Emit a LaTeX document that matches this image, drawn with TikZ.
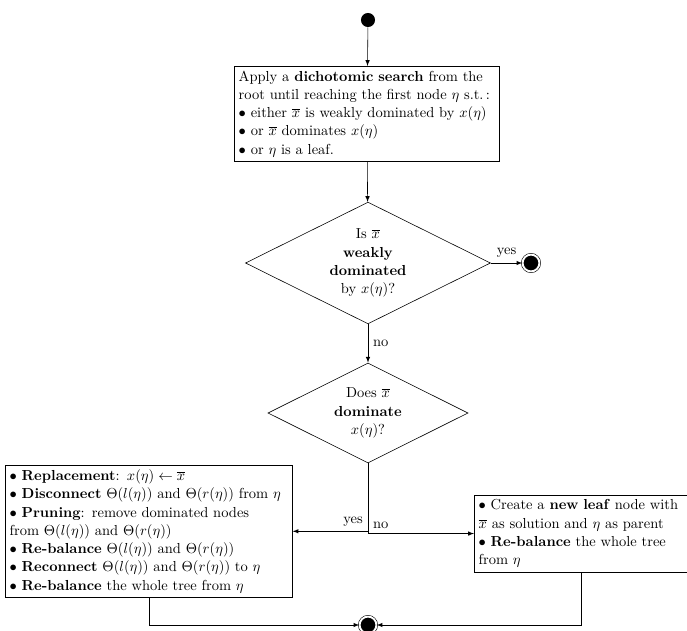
\documentclass[tikz,border=0pt]{standalone}
\usepackage{amsmath}
\usetikzlibrary{shapes.geometric}

\tikzset{
  every node/.style={font=\linespread{1.05}\selectfont},
  block/.style={draw, align=left, inner sep=3pt},
  decision/.style={draw, diamond, aspect=2, inner sep=0pt, align=center},
  initial/.style={circle, fill=black, inner sep=0pt, minimum size=9.7pt},
  final/.style={circle, draw, double, double distance=1.3pt, fill=black, inner sep=0pt, minimum size=11.6pt},
}

\begin{document}
\begin{tikzpicture}[x=0.02424cm, y=-0.02424cm, >=latex]
        \useasboundingbox (0,0) rectangle (687,631);
        % start / search
        \node[initial] (start) at (368,20) {};
        \node[block, text width=177pt, anchor=north] (search) at (367,66)
          {Apply a \textbf{dichotomic search} from the\\
           root until reaching the first node $\eta$ s.t.\,:\\
           $\bullet$ either $\overline{x}$ is weakly dominated by $x(\eta)$\\
           $\bullet$ or $\overline{x}$ dominates $x(\eta)$\\
           $\bullet$ or $\eta$ is a leaf.};
        % tests
        \node[decision, minimum width=169pt, minimum height=84pt] (weak) at (368,263)
          {Is $\overline{x}$\\ \textbf{weakly}\\ \textbf{dominated}\\ by $x(\eta)$?};
        \node[final] (endA) at (531,263) {};
        \node[decision, minimum width=138pt, minimum height=69pt] (dom) at (368,413)
          {Does $\overline{x}$\\ \textbf{dominate}\\ $x(\eta)$?};
        % actions
        \node[block, text width=192pt, anchor=north west] (replace) at (5,465)
          {$\bullet$ \textbf{Replacement}: $x(\eta) \leftarrow \overline{x}$\\
           $\bullet$ \textbf{Disconnect} $\Theta(l(\eta))$ and $\Theta(r(\eta))$ from $\eta$\\
           $\bullet$ \textbf{Pruning}: remove dominated nodes\\
           from $\Theta(l(\eta))$ and $\Theta(r(\eta))$\\
           $\bullet$ \textbf{Re-balance} $\Theta(l(\eta))$ and $\Theta(r(\eta))$\\
           $\bullet$ \textbf{Reconnect} $\Theta(l(\eta))$ and $\Theta(r(\eta))$ to $\eta$\\
           $\bullet$ \textbf{Re-balance} the whole tree from $\eta$};
        \node[block, text width=141pt, anchor=north west] (leaf) at (474,495)
          {$\bullet$ Create a \textbf{new leaf} node with\\
           $\overline{x}$ as solution and $\eta$ as parent\\
           $\bullet$ \textbf{Re-balance} the whole tree\\
           from $\eta$};
        \node[final] (endB) at (368,625) {};

        \draw[->] (start) -- (search);
        \draw[->] (search) -- (weak);
        \draw[->] (weak) -- node[above] {yes} (endA);
        \draw[->] (weak) -- node[right] {no} (dom);
        \draw[->] (dom.south) |- node[pos=0.5, above left] {yes} (replace.east);
        \draw[->] (dom.south) |- node[pos=0.5, above right] {no} (leaf.west);
        \draw[->] (replace.south) |- (endB);
        \draw[->] (leaf.south) |- (endB);
    \end{tikzpicture}
\end{document}
